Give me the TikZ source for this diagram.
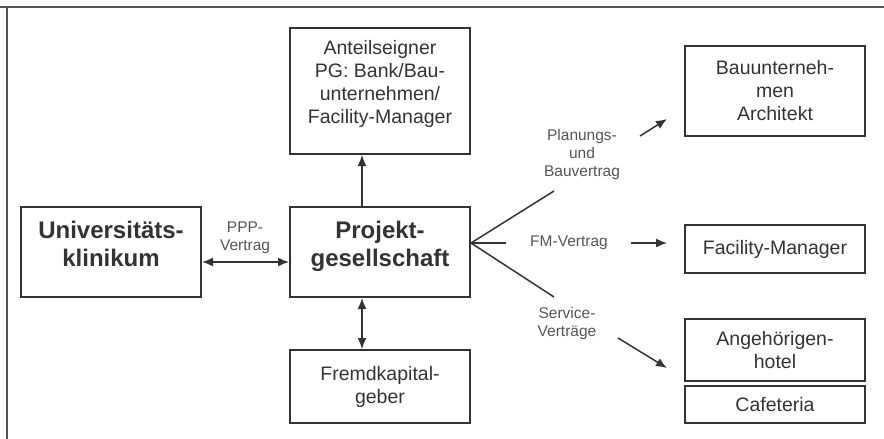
\documentclass[tikz,border=0pt]{standalone}
\usepackage{fontspec}
\setmainfont{Liberation Sans}
\usetikzlibrary{arrows.meta,positioning,calc}
\definecolor{boxgray}{HTML}{333333}
\definecolor{labgray}{HTML}{555555}

\begin{document}
\begin{tikzpicture}[x=1pt,y=-1pt,>={Latex[length=11pt,width=9pt]},
  box/.style={draw=boxgray,line width=2pt,minimum width=180pt,inner sep=2pt,align=center,text=boxgray,font=\fontsize{19.5}{23}\selectfont},
  bigbox/.style={box,text depth=17pt,font=\fontsize{24}{28}\selectfont\bfseries},
  lab/.style={align=center,text=labgray,font=\fontsize{15.5}{18}\selectfont},
  conn/.style={line width=1.5pt,boxgray}]
  \useasboundingbox (0,0) rectangle (884,439);
  \draw[line width=1.5pt,labgray] (0,7) -- (884,7);
  \draw[line width=1.5pt,labgray] (7,7) -- (7,439);
  % boxes
  \node[box,text depth=18pt,minimum height=126pt] (anteil) at (380,91) {Anteilseigner\\PG: Bank/Bau-\\unternehmen/\\Facility-Manager};
  \node[box,minimum height=90pt] (bau) at (775,91) {Bauunterneh-\\men\\Architekt};
  \node[bigbox,minimum height=90pt] (uni) at (111,252) {Universitäts-\\klinikum};
  \node[bigbox,minimum height=90pt] (proj) at (380,252) {Projekt-\\gesellschaft};
  \node[box,minimum height=48pt] (fm) at (775,249) {Facility-Manager};
  \node[box,minimum height=73pt] (fremd) at (380,386.5) {Fremdkapital-\\geber};
  \node[box,minimum height=62pt] (hotel) at (775,350) {Angehörigen-\\hotel};
  \node[box,minimum height=37pt] (cafe) at (775,404.5) {Cafeteria};
  % connectors
  \draw[conn,->] ([xshift=-18pt]proj.north) -- ([xshift=-18pt]anteil.south);
  \draw[conn,<->] ([yshift=-10pt]uni.east) -- ([yshift=-10pt]proj.west);
  \draw[conn,<->] ([xshift=-18pt]proj.south) -- ([xshift=-18pt]fremd.north);
  \node[lab] (ppplab) at (245,238) {PPP-\\Vertrag};
  % contracts fan
  \coordinate (fan) at ([yshift=9pt]proj.east);
  \coordinate (fanA) at (554,191);
  \coordinate (fanB) at (506,243);
  \coordinate (fanC) at (554,297);
  \draw[conn] (fanA) -- (fan) -- (fanC);
  \draw[conn] (fan) -- (fanB);
  \node[lab] (planlab) at (582,154) {Planungs-\\und\\Bauvertrag};
  \node[lab] (fmlab) at (569,243) {FM-Vertrag};
  \node[lab] (servlab) at (567,323) {Service-\\Verträge};
  \coordinate (planS) at (640,136);
  \coordinate (planE) at (667,119);
  \coordinate (fmS) at (631,243);
  \coordinate (fmE) at (667,243);
  \coordinate (servS) at (618,338);
  \coordinate (servE) at (667,368);
  \draw[conn,->] (planS) -- (planE);
  \draw[conn,->] (fmS) -- (fmE);
  \draw[conn,->] (servS) -- (servE);
\end{tikzpicture}
\end{document}
